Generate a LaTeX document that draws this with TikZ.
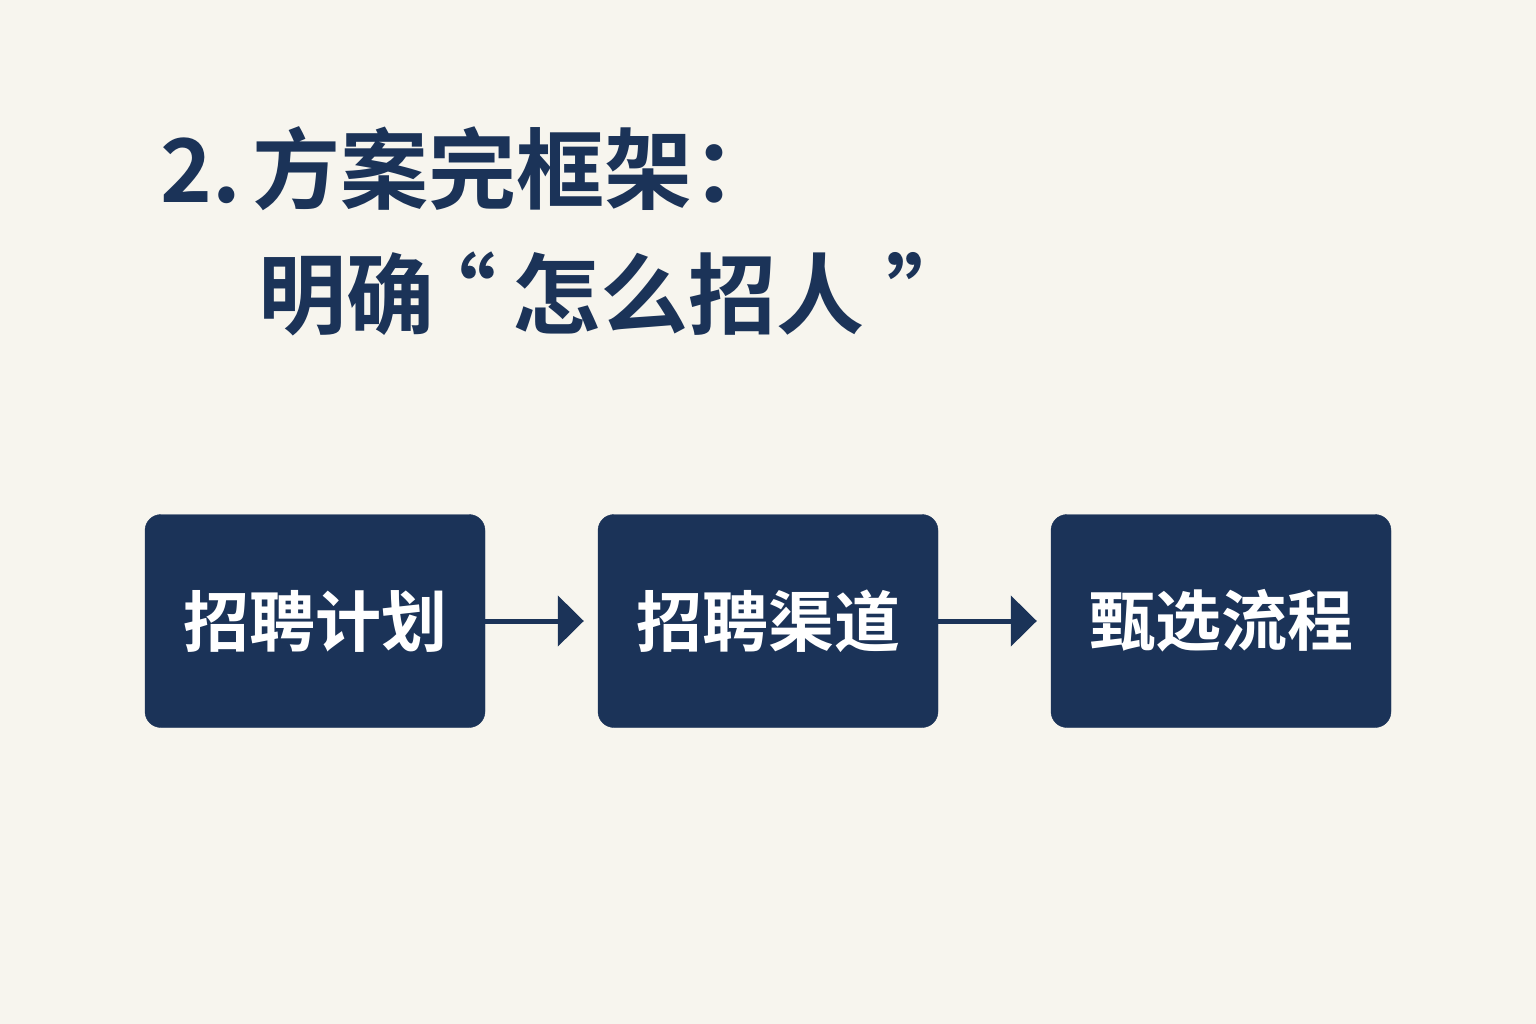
\documentclass[tikz,border=0pt]{standalone}
\usepackage{fontspec}
\usepackage{xcolor}
\usetikzlibrary{arrows.meta}
\newfontfamily\cjk{Noto Sans CJK SC}[BoldFont={* Bold}]

\definecolor{navy}{HTML}{1B3358}
\definecolor{paper}{HTML}{F7F5EE}

\tikzset{
  heading/.style={anchor=base west, inner sep=0pt, text=navy, font=\cjk\bfseries\fontsize{88}{100}\selectfont},
  stage/.style={fill=navy, draw=navy, rounded corners=16pt, minimum width=340pt, minimum height=213pt,
    text=white, font=\cjk\bfseries\fontsize{66}{70}\selectfont, inner sep=0pt},
  flow/.style={navy, line width=5pt, -{Triangle[length=26pt,width=50pt]}, shorten >=14pt}
}

\begin{document}
\begin{tikzpicture}[x=1pt,y=-1pt]
\fill[paper] (0,0) rectangle (1536,1024);
\useasboundingbox (0,0) rectangle (1536,1024);

% title
\node[heading] (title) at (160,203) {2.\hspace{12pt}方案完框架：};
\node[heading] (subtitle) at (258,327) {明确\hspace{-26pt}“\hspace{16pt}怎么招人\hspace{22pt}”};

% stages
\node[stage] (plan) at (315,621) {招聘计划};
\node[stage] (channel) at (768,621) {招聘渠道};
\node[stage] (select) at (1221,621) {甄选流程};

\draw[flow] (plan) -- (channel);
\draw[flow] (channel) -- (select);
\end{tikzpicture}
\end{document}
